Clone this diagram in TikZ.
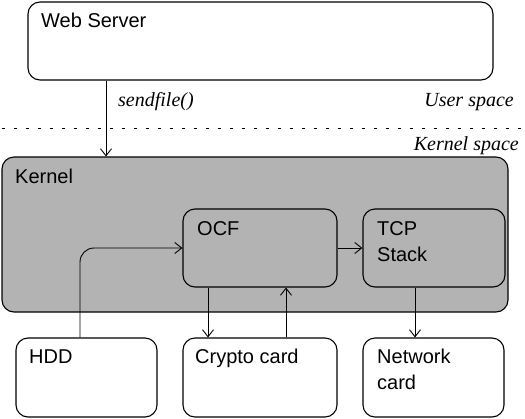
\documentclass[tikz,border=0pt]{standalone}
\usepackage{fontspec}
\setmainfont{Liberation Sans}
\newfontfamily\seriffont{Liberation Serif}
\usetikzlibrary{arrows.meta}
\definecolor{kgray}{HTML}{B3B3B3}
\begin{document}
\begin{tikzpicture}[x=1pt,y=-1pt,
  box/.style={draw, line width=1.1pt, rounded corners=12pt, inner sep=0pt, fill=white},
  graybox/.style={box, fill=kgray},
  lbl/.style={anchor=base west, inner sep=0pt, align=left, font=\fontsize{20}{26.5}\selectfont},
  itl/.style={inner sep=0pt, font=\seriffont\itshape\fontsize{20}{24}\selectfont},
  arr/.style={draw, line width=0.9pt, -{Straight Barb[length=7pt,width=11pt,line width=0.9pt]}}]
\useasboundingbox (0,0) rectangle (525,418);
% boxes
\node[box, minimum width=465pt, minimum height=78pt] (ws) at (260.5,41) {};
\node[graybox, minimum width=506pt, minimum height=155pt] (kernel) at (255,234.5) {};
\node[graybox, minimum width=154pt, minimum height=78pt] (ocf) at (260,248) {};
\node[graybox, minimum width=142pt, minimum height=78pt] (tcp) at (434,248) {};
\node[box, minimum width=141pt, minimum height=79pt] (hdd) at (86.5,377.5) {};
\node[box, minimum width=154pt, minimum height=79pt] (crypto) at (260,377.5) {};
\node[box, minimum width=141pt, minimum height=79pt] (net) at (433.5,377.5) {};
% labels
\node[lbl] (wsl) at (41,27) {Web Server};
\node[lbl] (kl) at (15,183) {Kernel};
\node[lbl] (ocfl) at (197,235) {OCF};
\node[lbl] (tcpl) at (377,261.5) {TCP\\Stack};
\node[lbl] (hddl) at (29,363) {HDD};
\node[lbl] (cryl) at (195,363) {Crypto card};
\node[lbl] (netl) at (377,389.5) {Network\\card};
\node[itl, anchor=base west] (sf) at (118,106) {sendfile()};
\node[itl, anchor=base east] (us) at (514,106) {User space};
\node[itl, anchor=base east] (ks) at (519,150) {Kernel space};
% dotted separator
\coordinate (d1) at (2,128);
\coordinate (d2) at (525,128);
\draw[line width=0.8pt, dash pattern=on 3pt off 9pt] (d1) -- (d2);
% helper x positions
\coordinate (xs) at (106,0);
\coordinate (xh) at (80,0);
\coordinate (xc1) at (208,0);
\coordinate (xc2) at (286,0);
\coordinate (xn) at (415,0);
% connectors
\draw[arr] (ws.south -| xs) -- (kernel.north -| xs);
\draw[arr, rounded corners=14pt] (hdd.north -| xh) |- (ocf.west);
\draw[arr] (ocf.east) -- (tcp.west);
\draw[arr] (ocf.south -| xc1) -- (crypto.north -| xc1);
\draw[arr] (crypto.north -| xc2) -- (ocf.south -| xc2);
\draw[arr] (tcp.south -| xn) -- (net.north -| xn);
\end{tikzpicture}
\end{document}
